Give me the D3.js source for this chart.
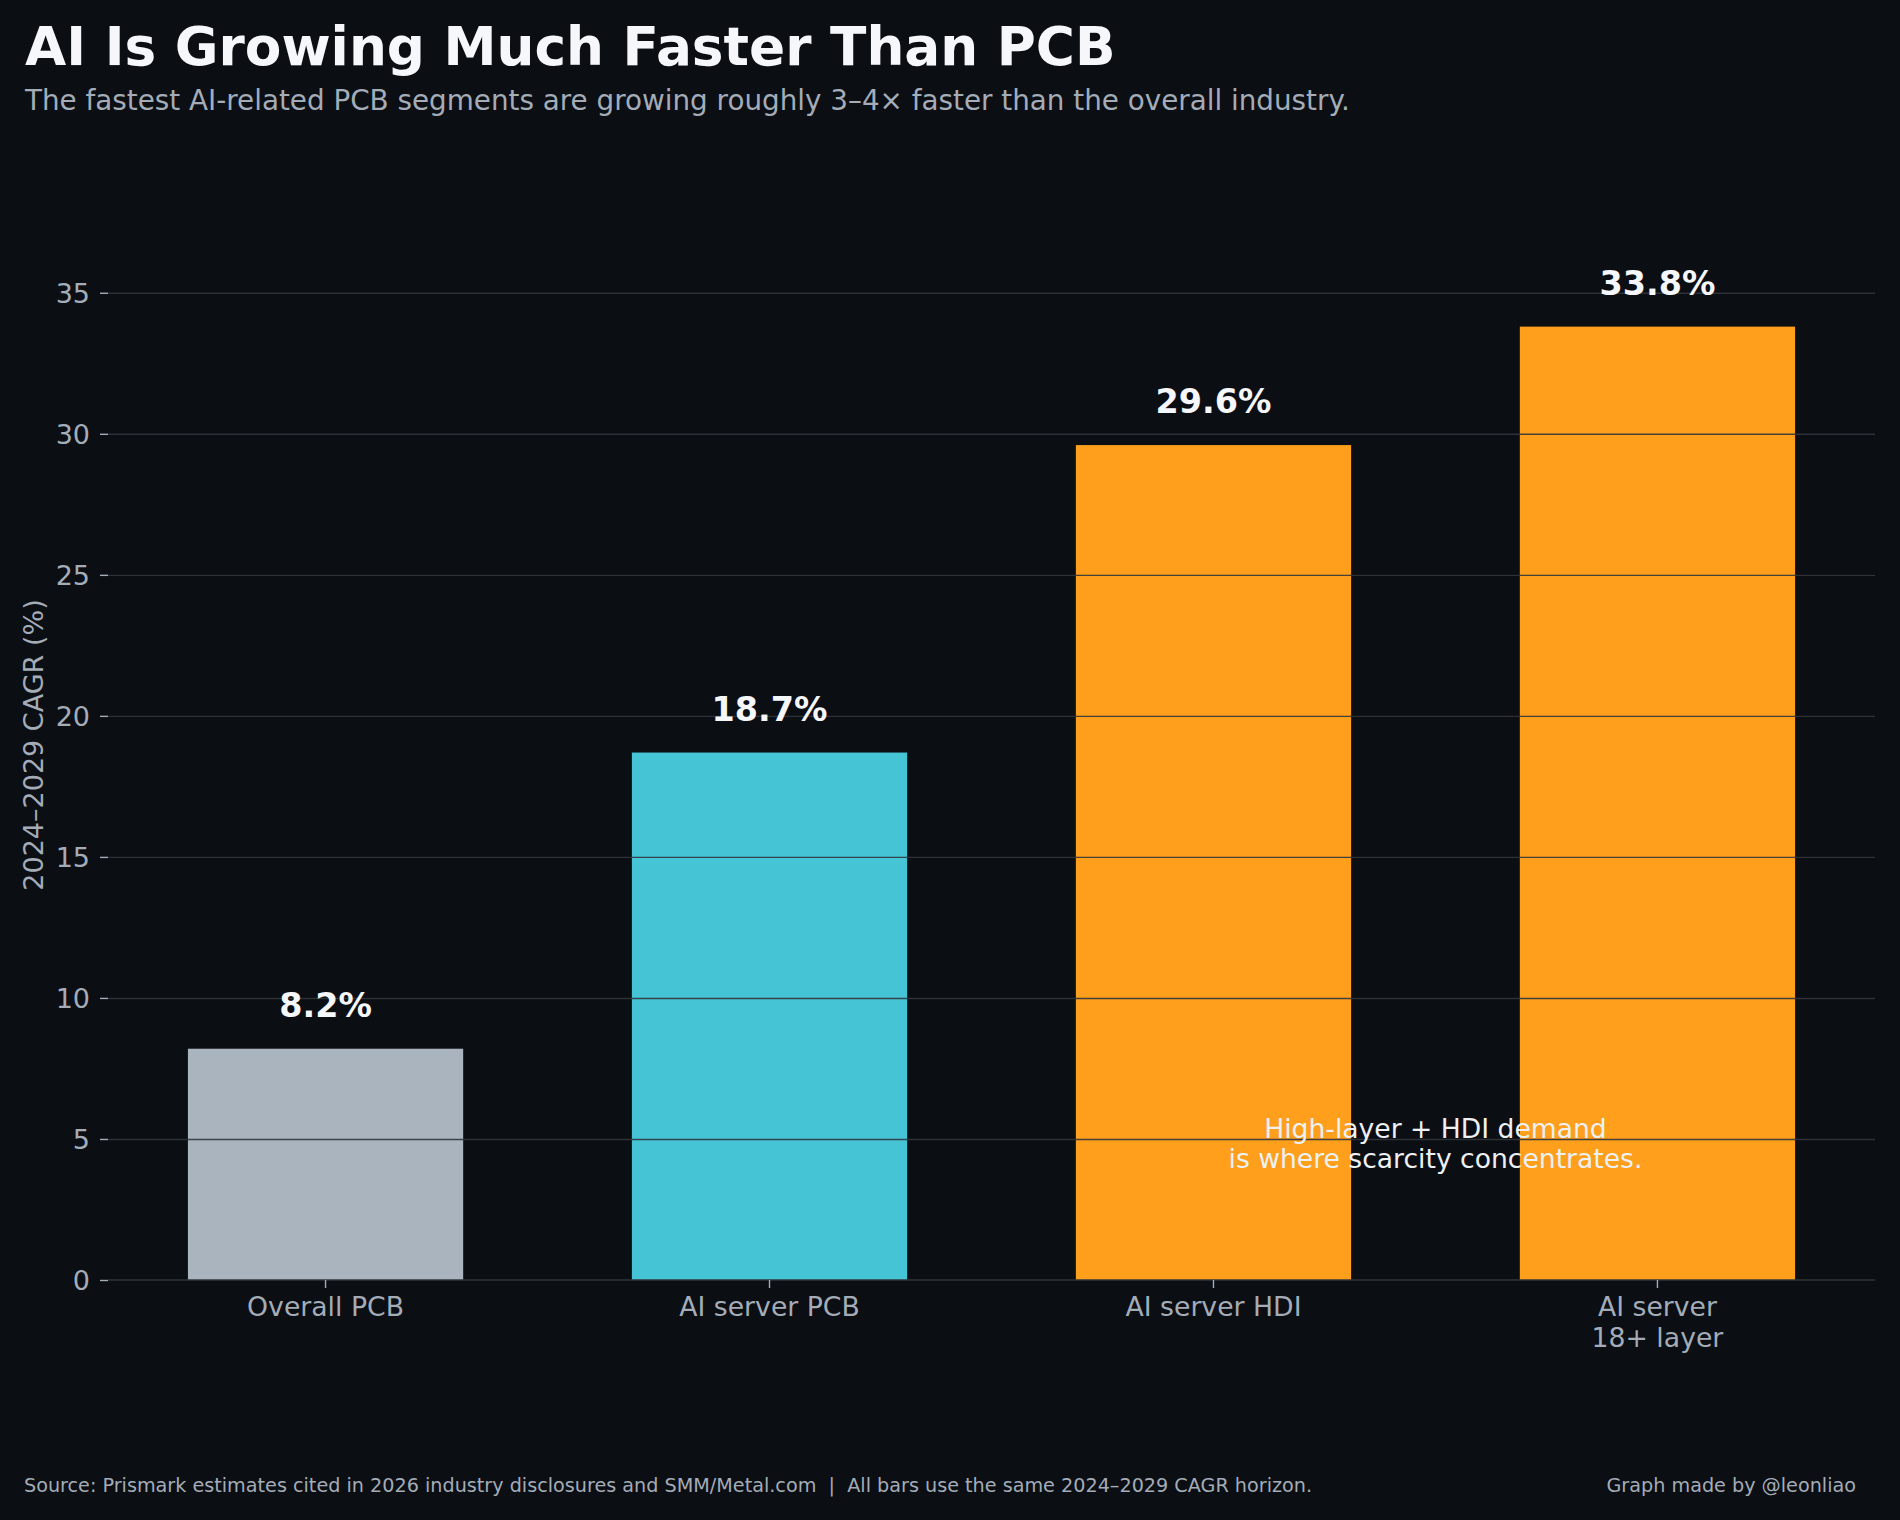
<!DOCTYPE html>
<html>
<head>
<meta charset="utf-8">
<script src="https://cdn.jsdelivr.net/npm/d3@7"></script>
<style>
  body { margin: 0; background: #0b0e13; }
  text { font-family: "DejaVu Sans", sans-serif; }
</style>
</head>
<body>
<div id="chart"></div>
<script>
// datos del grafico
const categories = ["Overall PCB", "AI server PCB", "AI server HDI", "AI server\n18+ layer"];
const cagr = [8.2, 18.7, 29.6, 33.8];
const barColors = ["#aab4be", "#45c4d6", "#ff9f1c", "#ff9f1c"];
const yTicks = [0, 5, 10, 15, 20, 25, 30, 35];

const width = 1900;
const height = 1520;
const margin = { top: 231, right: 25, bottom: 240, left: 108 };

const bg = "#0b0e13";
const gridColor = "#30363d";
const mutedText = "#a3acb7";
const brightText = "#f5f7fa";

const svg = d3.select("#chart")
    .append("svg")
    .attr("width", width)
    .attr("height", height)
    .attr("viewBox", [0, 0, width, height]);

svg.append("rect")
    .attr("width", width)
    .attr("height", height)
    .attr("fill", bg);

const xScale = d3.scaleBand()
    .domain(categories)
    .range([margin.left, width - margin.right])
    .paddingInner(0.38)
    .paddingOuter(0.18);

const yScale = d3.scaleLinear()
    .domain([0, 37.19])
    .range([height - margin.bottom, margin.top]);

// barras
svg.append("g")
    .selectAll("rect")
    .data(cagr)
    .join("rect")
    .attr("x", (d, i) => xScale(categories[i]))
    .attr("y", d => yScale(d))
    .attr("width", xScale.bandwidth())
    .attr("height", d => yScale(0) - yScale(d))
    .attr("fill", (d, i) => barColors[i]);

// eje Y con lineas de cuadricula encima de las barras
const yAxis = d3.axisLeft(yScale)
    .tickValues(yTicks)
    .tickSize(8)
    .tickPadding(10);

svg.append("g")
    .attr("class", "y-axis")
    .attr("transform", `translate(${margin.left},0)`)
    .call(yAxis)
    .call(g => g.select(".domain").remove())
    .call(g => g.selectAll(".tick line").attr("stroke", mutedText).attr("stroke-width", 1.4))
    .call(g => g.selectAll(".tick text")
        .attr("fill", mutedText)
        .style("font-size", "27px")
        .attr("dy", "0.36em"))
    .call(g => g.selectAll(".tick").filter(d => d !== 0).append("line")
        .attr("x1", 0)
        .attr("x2", width - margin.right - margin.left)
        .attr("stroke", gridColor)
        .attr("stroke-opacity", 0.9)
        .attr("stroke-width", 1.4));

// eje X
const xAxis = d3.axisBottom(xScale).tickSize(8).tickFormat("");

svg.append("g")
    .attr("class", "x-axis")
    .attr("transform", `translate(0,${yScale(0)})`)
    .call(xAxis)
    .call(g => g.select(".domain")
        .attr("stroke", gridColor)
        .attr("stroke-width", 1.6)
        .attr("d", `M${margin.left},0H${width - margin.right}`))
    .call(g => g.selectAll(".tick line").attr("stroke", mutedText).attr("stroke-width", 1.4));

// etiquetas del eje X (multilinea)
svg.append("g")
    .selectAll("text")
    .data(categories)
    .join("text")
    .attr("x", d => xScale(d) + xScale.bandwidth() / 2)
    .attr("y", yScale(0) + 36)
    .attr("text-anchor", "middle")
    .attr("fill", mutedText)
    .style("font-size", "26.7px")
    .each(function (d) {
        const lines = d.split("\n");
        d3.select(this).selectAll("tspan")
            .data(lines)
            .join("tspan")
            .attr("x", xScale(d) + xScale.bandwidth() / 2)
            .attr("dy", (l, i) => i === 0 ? 0 : 31)
            .text(l => l);
    });

// valores encima de cada barra
svg.append("g")
    .selectAll("text")
    .data(cagr)
    .join("text")
    .attr("x", (d, i) => xScale(categories[i]) + xScale.bandwidth() / 2)
    .attr("y", d => yScale(d) - 32)
    .attr("text-anchor", "middle")
    .attr("fill", brightText)
    .style("font-size", "33.4px")
    .style("font-weight", "bold")
    .text(d => d.toFixed(1) + "%");

// titulo del eje Y
svg.append("text")
    .attr("transform", "translate(43,745) rotate(-90)")
    .attr("text-anchor", "middle")
    .attr("fill", mutedText)
    .style("font-size", "27px")
    .text("2024–2029 CAGR (%)");

// anotacion entre las barras naranjas
const noteX = xScale(categories[2]) + xScale.bandwidth() / 2 + xScale.step() / 2;
const noteY = yScale(4.6);
const note = svg.append("text")
    .attr("text-anchor", "middle")
    .attr("fill", "#eef1f4")
    .style("font-size", "26.6px");
note.append("tspan").attr("x", noteX).attr("y", noteY - 12).text("High-layer + HDI demand");
note.append("tspan").attr("x", noteX).attr("y", noteY + 17.7).text("is where scarcity concentrates.");

// titulo y subtitulo
svg.append("text")
    .attr("x", 25)
    .attr("y", 65)
    .attr("fill", brightText)
    .style("font-size", "53.3px")
    .style("font-weight", "bold")
    .text("AI Is Growing Much Faster Than PCB");

svg.append("text")
    .attr("x", 25)
    .attr("y", 110)
    .attr("fill", mutedText)
    .style("font-size", "27.8px")
    .text("The fastest AI-related PCB segments are growing roughly 3–4× faster than the overall industry.");

// pie de pagina
svg.append("text")
    .attr("x", 24)
    .attr("y", 1492)
    .attr("fill", mutedText)
    .style("font-size", "19.2px")
    .style("white-space", "pre")
    .text("Source: Prismark estimates cited in 2026 industry disclosures and SMM/Metal.com  |  All bars use the same 2024–2029 CAGR horizon.");

svg.append("text")
    .attr("x", 1856)
    .attr("y", 1492)
    .attr("text-anchor", "end")
    .attr("fill", mutedText)
    .style("font-size", "19.2px")
    .text("Graph made by @leonliao");
</script>
</body>
</html>
